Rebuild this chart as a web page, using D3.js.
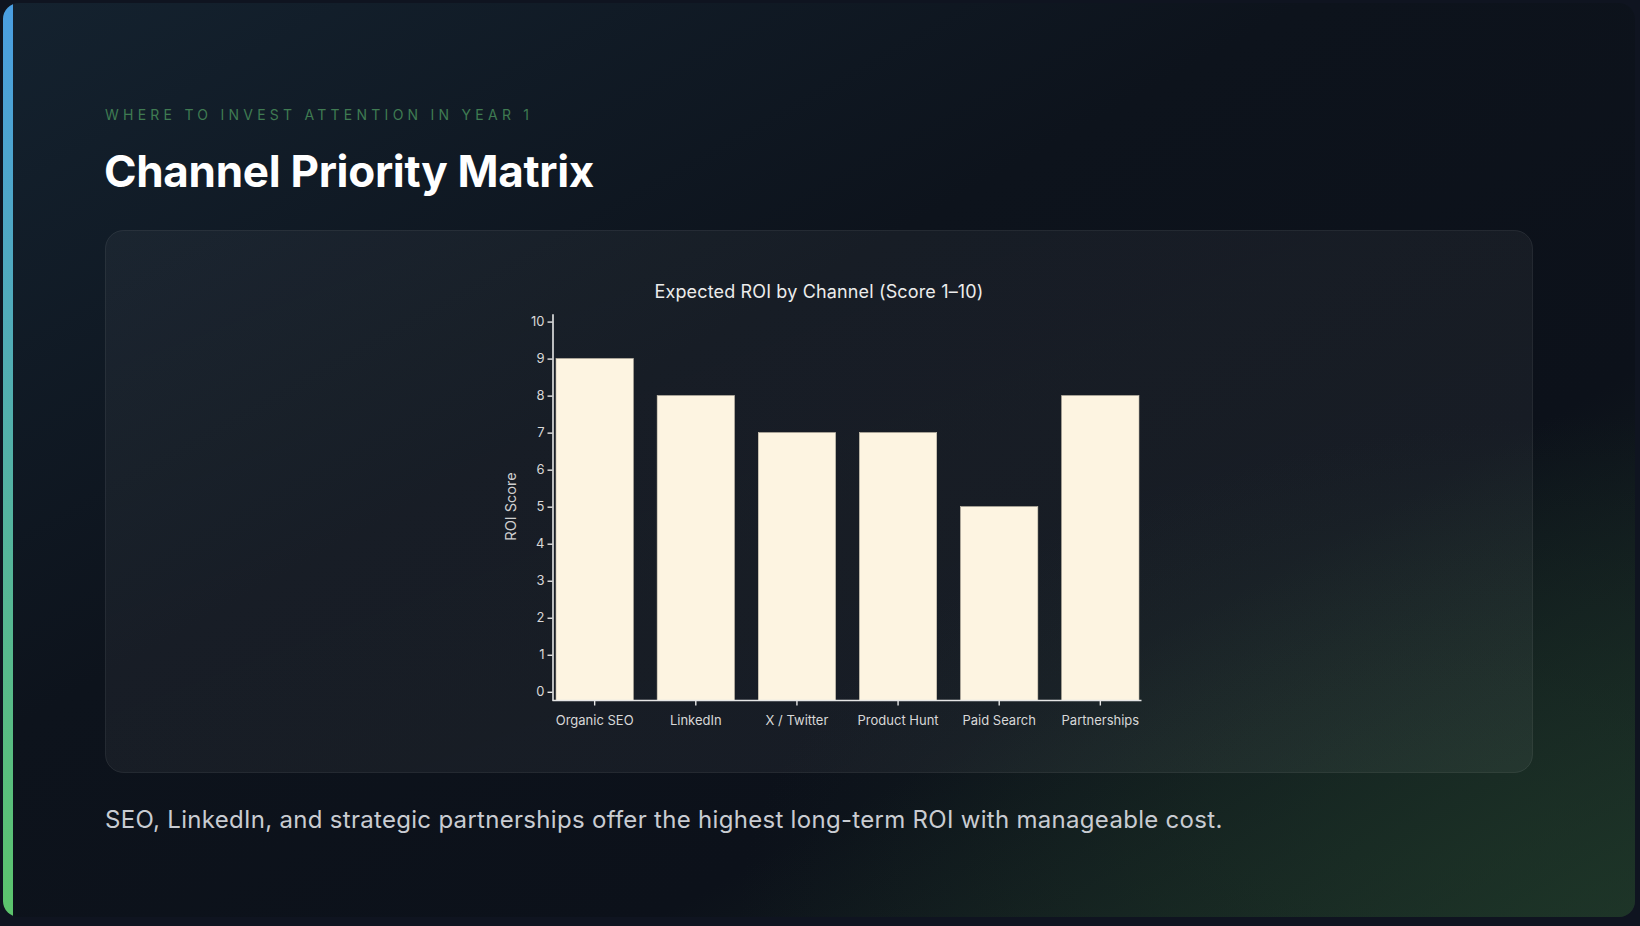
<!DOCTYPE html>
<html>
<head>
<meta charset="utf-8">
<script src="https://cdn.jsdelivr.net/npm/d3@7"></script>
<style>
  html, body { margin: 0; padding: 0; background: #0f1420; }
  svg { display: block; }
</style>
</head>
<body>
<svg id="slide" width="1640" height="926"></svg>
<script>
// chart data
var channels = ['Organic SEO', 'LinkedIn', 'X / Twitter', 'Product Hunt', 'Paid Search', 'Partnerships'];
var roiScores = [9, 8, 7, 7, 5, 8];
var yTickValues = [0, 1, 2, 3, 4, 5, 6, 7, 8, 9, 10];

var eyebrowText = 'WHERE TO INVEST ATTENTION IN YEAR 1';
var titleText = 'Channel Priority Matrix';
var chartTitle = 'Expected ROI by Channel (Score 1\u201310)';
var yLabel = 'ROI Score';
var footerText = 'SEO, LinkedIn, and strategic partnerships offer the highest long-term ROI with manageable cost.';

var font = 'Inter, "Noto Sans", sans-serif';

var svg = d3.select('#slide');
var defs = svg.append('defs');

// Background gradients
var bg = defs.append('linearGradient').attr('id', 'bg')
  .attr('x1', '0').attr('y1', '0').attr('x2', '1').attr('y2', '1');
bg.append('stop').attr('offset', '0%').attr('stop-color', '#14222f');
bg.append('stop').attr('offset', '40%').attr('stop-color', '#0d131c');
bg.append('stop').attr('offset', '70%').attr('stop-color', '#0c111a');
bg.append('stop').attr('offset', '100%').attr('stop-color', '#1b2d24');

var glow = defs.append('radialGradient').attr('id', 'glow')
  .attr('cx', '1').attr('cy', '1').attr('r', '0.55');
glow.append('stop').attr('offset', '0%').attr('stop-color', '#1f3a2a').attr('stop-opacity', 0.6);
glow.append('stop').attr('offset', '100%').attr('stop-color', '#1f3a2a').attr('stop-opacity', 0);

var accent = defs.append('linearGradient').attr('id', 'accent')
  .attr('x1', '0').attr('y1', '0').attr('x2', '0').attr('y2', '1');
accent.append('stop').attr('offset', '0%').attr('stop-color', '#4a9ee2');
accent.append('stop').attr('offset', '100%').attr('stop-color', '#5cc46c');

defs.append('clipPath').attr('id', 'slideClip')
  .append('rect').attr('x', 3).attr('y', 3).attr('width', 1632).attr('height', 914).attr('rx', 16);

var slide = svg.append('g').attr('clip-path', 'url(#slideClip)');
slide.append('rect').attr('x', 3).attr('y', 3).attr('width', 1632).attr('height', 914).attr('fill', 'url(#bg)');
slide.append('rect').attr('x', 3).attr('y', 3).attr('width', 1632).attr('height', 914).attr('fill', 'url(#glow)');
slide.append('rect').attr('x', 3).attr('y', 3).attr('width', 10).attr('height', 914).attr('fill', 'url(#accent)');

// Header text
svg.append('text')
  .attr('x', 105).attr('y', 120)
  .attr('font-family', font).attr('font-size', 14).attr('letter-spacing', 4.25)
  .attr('fill', '#3f7b52')
  .text(eyebrowText);

svg.append('text')
  .attr('x', 104).attr('y', 187)
  .attr('font-family', font).attr('font-size', 44).attr('font-weight', 700)
  .attr('letter-spacing', -0.3)
  .attr('fill', '#ffffff')
  .text(titleText);

// Card
var cardGrad = defs.append('linearGradient').attr('id', 'card')
  .attr('x1', '0').attr('y1', '0').attr('x2', '1').attr('y2', '1');
cardGrad.append('stop').attr('offset', '0%').attr('stop-color', '#ffffff').attr('stop-opacity', 0.04);
cardGrad.append('stop').attr('offset', '100%').attr('stop-color', '#ffffff').attr('stop-opacity', 0.05);

svg.append('rect')
  .attr('x', 105.5).attr('y', 230.5).attr('width', 1427).attr('height', 542).attr('rx', 18)
  .attr('fill', 'url(#card)')
  .attr('stroke', '#ffffff').attr('stroke-opacity', 0.08);

// Chart
var x = d3.scaleBand()
  .domain(channels)
  .range([553.5, 1141.5])
  .paddingInner(0.236)
  .paddingOuter(0.025);

var y = d3.scaleLinear()
  .domain([-0.23, 10.21])
  .range([700.3, 313.8]);

var chart = svg.append('g');

chart.append('text')
  .attr('x', 819).attr('y', 298)
  .attr('text-anchor', 'middle')
  .attr('font-family', font).attr('font-size', 18)
  .attr('letter-spacing', 0.15)
  .attr('fill', '#ececec')
  .text(chartTitle);

chart.selectAll('rect.bar')
  .data(roiScores)
  .enter().append('rect')
  .attr('class', 'bar')
  .attr('x', function (d, i) { return x(channels[i]); })
  .attr('width', x.bandwidth())
  .attr('y', function (d) { return y(d); })
  .attr('height', function (d) { return y(-0.23) - y(d); })
  .attr('fill', '#fdf4e1')
  .attr('stroke', '#cfc6b4').attr('stroke-width', 0.6);

var yAxis = chart.append('g')
  .attr('transform', 'translate(552.5,0)')
  .call(d3.axisLeft(y).tickValues(yTickValues).tickSize(5).tickSizeOuter(0).tickPadding(3));

var xAxis = chart.append('g')
  .attr('transform', 'translate(0,700.5)')
  .call(d3.axisBottom(x).tickSize(5).tickSizeOuter(0).tickPadding(10));

xAxis.select('.domain').attr('d', 'M552.5,0H1141.5');

[yAxis, xAxis].forEach(function (ax) {
  ax.select('.domain').attr('stroke', '#e6e6e6').attr('stroke-width', 1.6);
  ax.selectAll('.tick line').attr('stroke', '#e6e6e6').attr('stroke-width', 1.4);
  ax.selectAll('.tick text')
    .attr('font-family', font).attr('font-size', 13)
    .attr('fill', '#d8d8d8');
});

chart.append('text')
  .attr('transform', 'translate(516,506.5) rotate(-90)')
  .attr('text-anchor', 'middle')
  .attr('font-family', font).attr('font-size', 14.5)
  .attr('fill', '#cfcfcf')
  .text(yLabel);

// Footer
svg.append('text')
  .attr('x', 105).attr('y', 828)
  .attr('font-family', font).attr('font-size', 24)
  .attr('letter-spacing', 0.3)
  .attr('fill', '#c9ccd2')
  .text(footerText);
</script>
</body>
</html>
